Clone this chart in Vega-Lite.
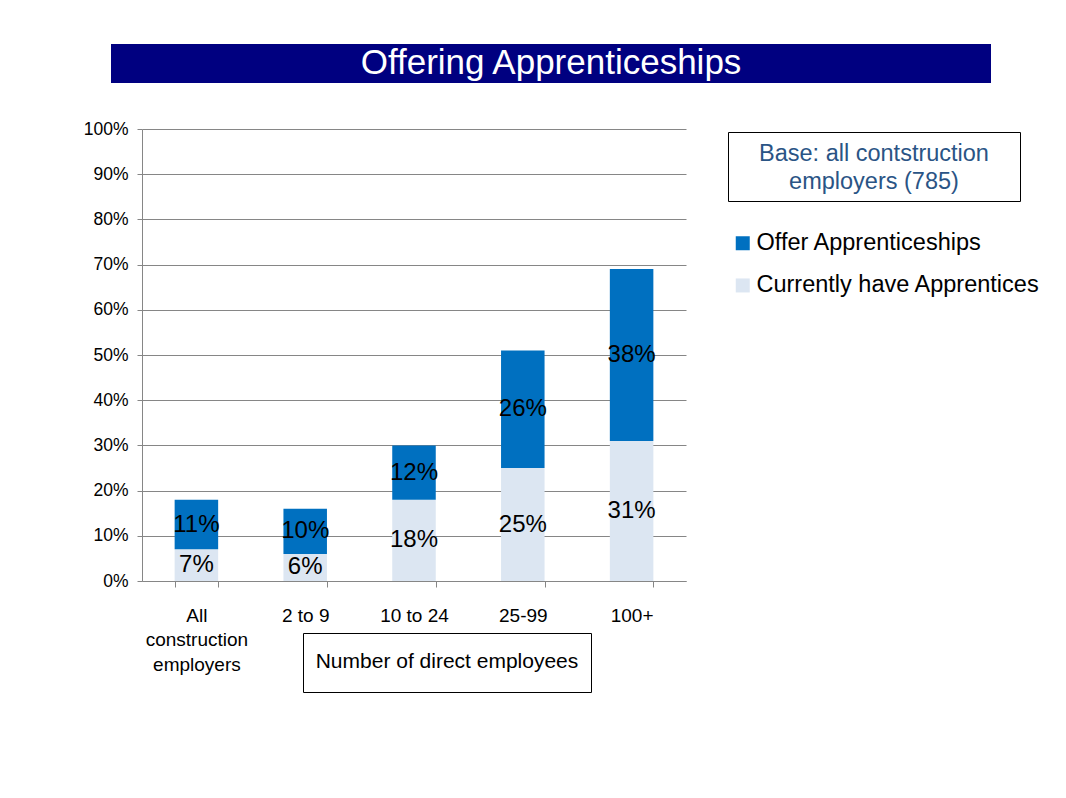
{
  "$schema": "https://vega.github.io/schema/vega-lite/v6.json",
  "background": "white",
  "padding": {"left": 83, "top": 44, "right": 0, "bottom": 0},
  "autosize": {"type": "pad"},
  "config": {
    "view": {"stroke": null},
    "font": "Liberation Sans"
  },
  "spacing": 37,
  "vconcat": [
    {
      "spacing": 0,
      "hconcat": [
        {"width": 12, "height": 39, "data": {"values": [{}]}, "mark": {"type": "rect", "opacity": 0}, "encoding": {}},
        {
          "width": 880, "height": 39,
          "view": {"fill": "#000080", "stroke": null},
          "data": {"values": [{"label": "Offering Apprenticeships"}]},
          "mark": {"type": "text", "color": "white", "fontSize": 35, "baseline": "alphabetic", "dy": 10},
          "encoding": {"text": {"field": "label"}}
        }
      ]
    },
    {
      "spacing": 504,
      "bounds": "flush",
      "vconcat": [
        {
          "spacing": 42,
          "bounds": "flush",
          "hconcat": [
            {"width": 1, "height": 1, "data": {"values": [{}]}, "mark": {"type": "rect", "opacity": 0}, "encoding": {}},
            {
              "width": 544, "height": 452,
              "data": {"values": [
                {"category": "All construction employers", "series": "Currently have Apprentices", "value": 0.07},
                {"category": "All construction employers", "series": "Offer Apprenticeships", "value": 0.11},
                {"category": "2 to 9", "series": "Currently have Apprentices", "value": 0.06},
                {"category": "2 to 9", "series": "Offer Apprenticeships", "value": 0.10},
                {"category": "10 to 24", "series": "Currently have Apprentices", "value": 0.18},
                {"category": "10 to 24", "series": "Offer Apprenticeships", "value": 0.12},
                {"category": "25-99", "series": "Currently have Apprentices", "value": 0.25},
                {"category": "25-99", "series": "Offer Apprenticeships", "value": 0.26},
                {"category": "100+", "series": "Currently have Apprentices", "value": 0.31},
                {"category": "100+", "series": "Offer Apprenticeships", "value": 0.38}
              ]},
              "transform": [
                {"stack": "value", "groupby": ["category"], "sort": [{"field": "series", "order": "ascending"}], "as": ["v0", "v1"]}
              ],
              "encoding": {
                "x": {
                  "field": "category", "type": "nominal",
                  "sort": ["All construction employers", "2 to 9", "10 to 24", "25-99", "100+"],
                  "scale": {"paddingInner": 0.6, "paddingOuter": 0.3},
                  "axis": {
                    "title": null, "tickBand": "extent", "tickSize": 6, "labelPadding": 19,
                    "labelFontSize": 19, "labelLineHeight": 24.5, "labelAngle": 0, "labelColor": "black",
                    "labelBaseline": "top", "labelLimit": 200,
                    "domainColor": "#868686", "tickColor": "#868686",
                    "labelExpr": "datum.label == 'All construction employers' ? ['All', 'construction', 'employers'] : datum.label"
                  }
                }
              },
              "layer": [
                {
                  "mark": {"type": "bar"},
                  "encoding": {
                    "y": {
                      "field": "v0", "type": "quantitative",
                      "scale": {"domain": [0, 1]},
                      "axis": {
                        "title": null, "values": [0, 0.1, 0.2, 0.3, 0.4, 0.5, 0.6, 0.7, 0.8, 0.9, 1],
                        "format": ".0%", "grid": true, "gridColor": "#868686", "domainColor": "#868686",
                        "tickColor": "#868686", "tickSize": 5, "labelPadding": 9, "labelFontSize": 17.5,
                        "labelColor": "black"
                      }
                    },
                    "y2": {"field": "v1"},
                    "color": {
                      "field": "series", "type": "nominal",
                      "scale": {"domain": ["Offer Apprenticeships", "Currently have Apprentices"], "range": ["#0070C0", "#DCE6F2"]},
                      "legend": {
                        "orient": "none", "legendX": 632, "legendY": 187.5, "title": null,
                        "symbolType": "square", "symbolSize": 196, "symbolStrokeWidth": 0,
                        "labelFontSize": 23.5, "labelColor": "black", "labelLimit": 400, "labelOffset": 2,
                        "rowPadding": 17.2, "padding": 0
                      }
                    }
                  }
                },
                {
                  "transform": [
                    {"fold": ["v0", "v1"], "as": ["edge", "pos"]},
                    {"aggregate": [{"op": "mean", "field": "pos", "as": "mid"}, {"op": "max", "field": "value", "as": "value"}], "groupby": ["category", "series"]}
                  ],
                  "mark": {"type": "text", "fontSize": 24, "color": "black", "baseline": "middle"},
                  "encoding": {
                    "y": {"field": "mid", "type": "quantitative", "axis": {"title": null}},
                    "text": {"field": "value", "type": "quantitative", "format": ".0%"}
                  }
                }
              ]
            },
            {
              "spacing": 0,
              "vconcat": [
                {"width": 1, "height": 1.5, "data": {"values": [{}]}, "mark": {"type": "rect", "opacity": 0}, "encoding": {}},
                {
                  "width": 292, "height": 69,
                  "view": {"stroke": "#000000", "strokeWidth": 1},
                  "data": {"values": [{"label": "Base: all contstruction\nemployers (785)"}]},
                  "mark": {"type": "text", "fontSize": 23.5, "color": "#2A5485", "lineBreak": "\n", "lineHeight": 27.6, "baseline": "alphabetic", "dy": -5.5},
                  "encoding": {"text": {"field": "label"}}
                }
              ]
            }
          ]
        },
        {
          "spacing": 0,
          "bounds": "flush",
          "hconcat": [
            {"width": 204, "height": 1, "data": {"values": [{}]}, "mark": {"type": "rect", "opacity": 0}, "encoding": {}},
            {
              "width": 288, "height": 59,
              "view": {"stroke": "#000000", "strokeWidth": 1},
              "data": {"values": [{"label": "Number of direct employees"}]},
              "mark": {"type": "text", "fontSize": 21, "color": "black", "baseline": "alphabetic", "dy": 5},
              "encoding": {"text": {"field": "label"}}
            }
          ]
        }
      ]
    }
  ]
}
